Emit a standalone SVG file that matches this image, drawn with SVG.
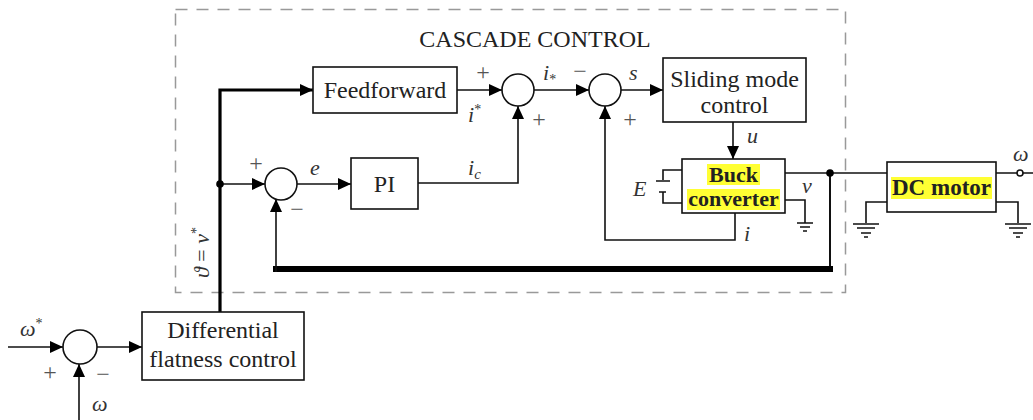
<svg xmlns="http://www.w3.org/2000/svg" width="1033" height="420" viewBox="0 0 1033 420">
<defs>
<style>
.box{fill:#fff;stroke:#111;stroke-width:1.6}
.sum{fill:#fff;stroke:#111;stroke-width:1.6}
.ln{fill:none;stroke:#111;stroke-width:1.6}
.thk{fill:none;stroke:#000;stroke-width:3.2}
.fat{fill:none;stroke:#000;stroke-width:6}
.t{font-family:"Liberation Serif","Times New Roman",serif;font-size:24px;fill:#222;text-anchor:middle}
.b{font-family:"Liberation Serif","Times New Roman",serif;font-size:22px;font-weight:bold;fill:#222;text-anchor:middle}
.m{font-family:"Liberation Serif","Times New Roman",serif;font-size:22px;font-style:italic;fill:#333}
.sg{font-family:"Liberation Serif","Times New Roman",serif;font-size:24px;fill:#555;text-anchor:middle}
.hl{fill:#ffff33}
</style>
<marker id="ah" markerUnits="userSpaceOnUse" markerWidth="14" markerHeight="12" refX="13" refY="6" orient="auto">
<path d="M0,0 L13,6 L0,12 z" fill="#000"/>
</marker>
</defs>
<rect width="1033" height="420" fill="#fff"/>
<g id="cascade-frame">
<rect x="175.5" y="9.5" width="670" height="283" fill="none" stroke="#999" stroke-width="1.5" stroke-dasharray="12 9"/>
<text class="t" x="535" y="47">CASCADE CONTROL</text>
</g>
<g id="connectors">
<path class="ln" d="M8,347 H63" marker-end="url(#ah)"/>
<path class="ln" d="M79,420 V364" marker-end="url(#ah)"/>
<path class="ln" d="M97,347 H142" marker-end="url(#ah)"/>
<path class="thk" d="M220,312 V90 H313" marker-end="url(#ah)"/>
<path class="ln" d="M220,184 H265" marker-end="url(#ah)"/>
<path class="ln" d="M297,184 H351" marker-end="url(#ah)"/>
<path class="ln" d="M418,183 H518 V106" marker-end="url(#ah)"/>
<path class="ln" d="M457,90 H502" marker-end="url(#ah)"/>
<path class="ln" d="M534,90 H589" marker-end="url(#ah)"/>
<path class="ln" d="M621,90 H663" marker-end="url(#ah)"/>
<path class="ln" d="M733,122 V159" marker-end="url(#ah)"/>
<path class="ln" d="M735,213 V240 H605 V106" marker-end="url(#ah)"/>
<path class="ln" d="M785,173 H887"/>
<path class="ln" d="M830,173 V269" style="stroke-width:2"/>
<path class="fat" d="M833,269 H273"/>
<path class="ln" d="M276,272 V199" marker-end="url(#ah)"/>
<circle cx="220" cy="184" r="3.8" fill="#000"/>
<circle cx="830" cy="173" r="3.8" fill="#000"/>
<path class="ln" d="M996,173 H1017 M1023,173 H1033"/>
<circle cx="1020" cy="173" r="3" fill="#fff" stroke="#111" stroke-width="1.6"/>
</g>
<g id="sum0"><circle class="sum" cx="80" cy="347" r="17"/></g>
<g id="sum-e"><circle class="sum" cx="281" cy="184" r="16"/></g>
<g id="sum1"><circle class="sum" cx="518" cy="90" r="16"/></g>
<g id="sum2"><circle class="sum" cx="605" cy="90" r="16"/></g>
<g id="diff-flatness">
<rect class="box" x="142" y="312" width="162" height="68"/>
<text class="t" x="223" y="338">Differential</text>
<text class="t" x="223" y="367">flatness control</text>
</g>
<g id="feedforward">
<rect class="box" x="313" y="67" width="144" height="46"/>
<text class="t" x="385" y="98">Feedforward</text>
</g>
<g id="pi">
<rect class="box" x="351" y="158" width="67" height="51"/>
<text class="t" x="384.5" y="192">PI</text>
</g>
<g id="sliding-mode">
<rect class="box" x="663" y="58" width="143" height="64"/>
<text class="t" x="734.5" y="87">Sliding mode</text>
<text class="t" x="734.5" y="113">control</text>
</g>
<g id="buck">
<path class="ln" d="M682,170 H663 V180 M656,181 H670 M659,192 H666 M663,192 V203 H682"/>
<path class="ln" d="M785,200 H805 V223 M797,223 H813 M800,227 H810 M803,231 H807"/>
<rect class="box" x="682" y="159" width="103" height="54"/>
<rect class="hl" x="707" y="164" width="53" height="21"/>
<rect class="hl" x="687" y="189" width="93" height="21"/>
<text class="b" x="733.5" y="182">Buck</text>
<text class="b" x="733.5" y="206">converter</text>
</g>
<g id="dc-motor">
<path class="ln" d="M887,202 H866 V223 M853,224 H879 M857,228 H875 M861,233 H871 M864,237 H868"/>
<path class="ln" d="M996,202 H1018 V223 M1005,224 H1031 M1009,228 H1027 M1013,233 H1023 M1016,237 H1020"/>
<rect class="box" x="887" y="162" width="109" height="50"/>
<rect class="hl" x="891" y="177" width="101" height="22"/>
<text class="b" x="941.5" y="195" style="font-size:23px">DC motor</text>
</g>
<g id="labels">
<text class="m" x="20" y="336">ω<tspan dy="-8" font-size="14" font-style="normal">*</tspan></text>
<text class="sg" x="50" y="380">+</text>
<text class="sg" x="103" y="382">−</text>
<text class="m" x="92" y="411">ω</text>
<text class="sg" x="256" y="171">+</text>
<text class="sg" x="297" y="217">−</text>
<text class="m" x="310" y="175">e</text>
<text class="m" x="468" y="175">i<tspan dy="4" font-size="15">c</tspan></text>
<text class="sg" x="483" y="80">+</text>
<text class="m" x="468" y="122">i<tspan dy="-8" font-size="14" font-style="normal">*</tspan></text>
<text class="m" x="543" y="80">i<tspan dy="4" font-size="14" font-style="normal">*</tspan></text>
<text class="sg" x="580" y="79">−</text>
<text class="sg" x="539" y="127">+</text>
<text class="sg" x="630" y="127">+</text>
<text class="m" x="629" y="80">s</text>
<text class="m" x="747" y="143">u</text>
<text class="m" x="633" y="196">E</text>
<text class="m" x="802" y="193">v</text>
<text class="m" x="744" y="241">i</text>
<text class="m" x="1013" y="161">ω</text>
<text class="m" transform="translate(209,278) rotate(-90)">ϑ <tspan font-style="normal">=</tspan> v<tspan dy="-8" font-size="14" font-style="normal">*</tspan></text>
</g>
</svg>
